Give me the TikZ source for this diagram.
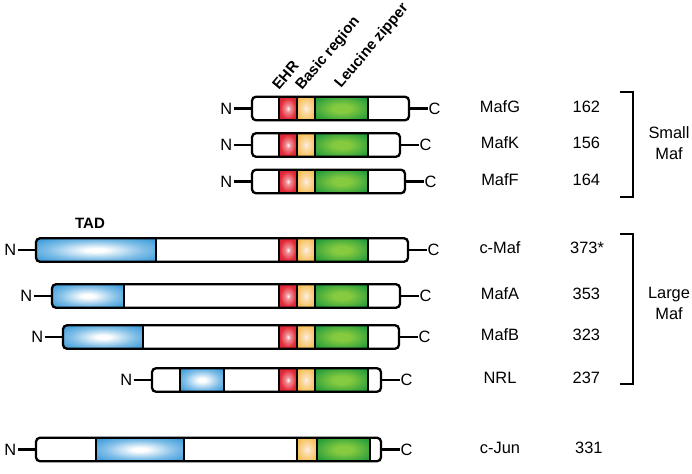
\documentclass[tikz,border=0pt]{standalone}
\usepackage{fontspec}
\setmainfont{Liberation Sans}
\definecolor{ehrred}{HTML}{E42A38}
\definecolor{ehrdark}{HTML}{B81C28}
\definecolor{basor}{HTML}{F6BF52}
\definecolor{basin}{HTML}{FFF0EC}
\definecolor{lzout}{HTML}{17963A}
\definecolor{lzin}{HTML}{86CA40}
\definecolor{tadout}{HTML}{1789D4}
\pgfdeclareradialshading{redsh}{\pgfpoint{0bp}{0bp}}{color(0bp)=(white); color(6bp)=(white!50!ehrred); color(22bp)=(ehrred); color(50bp)=(ehrdark)}
\pgfdeclareradialshading{orsh}{\pgfpoint{0bp}{0bp}}{color(0bp)=(basin); color(8bp)=(basin!60!basor); color(28bp)=(basor); color(50bp)=(basor!92!black)}
\pgfdeclareradialshading{grsh}{\pgfpoint{0bp}{0bp}}{color(0bp)=(lzin); color(8bp)=(lzin); color(34bp)=(lzout); color(50bp)=(lzout!90!black)}
\pgfdeclareradialshading{blsh}{\pgfpoint{0bp}{0bp}}{color(0bp)=(white); color(4bp)=(white); color(20bp)=(tadout!55); color(36bp)=(tadout!92); color(50bp)=(tadout)}
\tikzset{
  protbox/.style={draw=black, line width=2.3pt, rounded corners=4pt, inner sep=0pt},
  dom/.style={draw=black, line width=1.9pt},
  conn/.style={draw=black, line width=2.2pt},
  lbl/.style={font=\fontsize{16.4}{19}\selectfont, inner sep=1pt, text height=11.8pt, text depth=0pt},
  toplbl/.style={font=\bfseries\fontsize{15}{18}\selectfont, inner sep=0pt},
  brk/.style={draw=black, line width=2.2pt},
}
\newcommand{\dm}[3]{\shadedraw[dom, shading=#3] (#1,\yc-11.75) rectangle (#2,\yc+11.75);}
\newcommand{\mafdoms}{\dm{279}{297}{redsh}\dm{297}{315}{orsh}\dm{315}{368}{grsh}}
\newcommand{\protrow}[5]{%
  \fill[white, rounded corners=4pt] (#3,#2-11.75) rectangle (#4,#2+11.75);
  \begin{scope}
    \clip[rounded corners=4pt] (#3,#2-11.75) rectangle (#4,#2+11.75);
    \def\yc{#2}%
    #5
  \end{scope}
  \node[protbox, minimum width={#4-#3}, minimum height=23.5] (#1) at ({(#3+#4)/2},#2) {};
  \node[lbl, anchor=east] (#1N) at (#3-18.5,#2) {N};
  \node[lbl, anchor=west] (#1C) at (#4+18.5,#2) {C};
  \draw[conn] (#1N) -- (#1);
  \draw[conn] (#1) -- (#1C);
}
\begin{document}
\begin{tikzpicture}[x=1pt, y=-1pt]
\useasboundingbox (0,0) rectangle (692,473);
\fill[white] (0,0) rectangle (692,473);

% top labels
\node[toplbl, rotate=50, anchor=base west] (ehr) at (279,91) {EHR};
\node[toplbl, rotate=50, anchor=base west] (basic) at (302,91) {Basic region};
\node[toplbl, rotate=50, anchor=base west] (leu) at (341,89) {Leucine zipper};
\node[toplbl] (tad) at (90,223) {TAD};

% protein rows
\protrow{mafg}{108.5}{252}{409}{\mafdoms}
\protrow{mafk}{145}{252}{400}{\mafdoms}
\protrow{maff}{181.5}{252}{405}{\mafdoms}
\protrow{cmaf}{250}{36}{408}{\dm{36}{156}{blsh}\mafdoms}
\protrow{mafa}{296}{52}{400}{\dm{52}{124}{blsh}\mafdoms}
\protrow{mafb}{337}{63}{399}{\dm{63}{143}{blsh}\mafdoms}
\protrow{nrl}{380}{152}{381}{\dm{180}{224}{blsh}\mafdoms}
\protrow{cjun}{449.5}{36}{381}{\dm{96}{184}{blsh}\dm{297}{317}{orsh}\dm{317}{370}{grsh}}

% names and lengths
\node[lbl] (nmafg) at (500,106.5) {MafG};
\node[lbl] (nmafk) at (500,143) {MafK};
\node[lbl] (nmaff) at (500,179.5) {MafF};
\node[lbl] (ncmaf) at (500,248) {c-Maf};
\node[lbl] (nmafa) at (500,294) {MafA};
\node[lbl] (nmafb) at (500,335) {MafB};
\node[lbl] (nnrl) at (500,378) {NRL};
\node[lbl] (ncjun) at (500,447.5) {c-Jun};

\node[lbl, anchor=west] (lmafg) at (571.5,106.5) {162};
\node[lbl, anchor=west] (lmafk) at (571.5,143) {156};
\node[lbl, anchor=west] (lmaff) at (571.5,179.5) {164};
\node[lbl, anchor=west] (lcmaf) at (569,248) {373*};
\node[lbl, anchor=west] (lmafa) at (571.5,294) {353};
\node[lbl, anchor=west] (lmafb) at (571.5,335) {323};
\node[lbl, anchor=west] (lnrl) at (571.5,378) {237};
\node[lbl, anchor=west] (lcjun) at (574,447.5) {331};

% brackets
\draw[brk] (620,92) -- (633,92) -- (633,197) -- (620,197);
\draw[brk] (620,234) -- (633,234) -- (633,384) -- (620,384);
\node[font=\fontsize{16.4}{21}\selectfont, align=center, inner sep=0pt] (small) at (669,143) {Small\\Maf};
\node[font=\fontsize{16.4}{21}\selectfont, align=center, inner sep=0pt] (large) at (669,303) {Large\\Maf};
\end{tikzpicture}
\end{document}
